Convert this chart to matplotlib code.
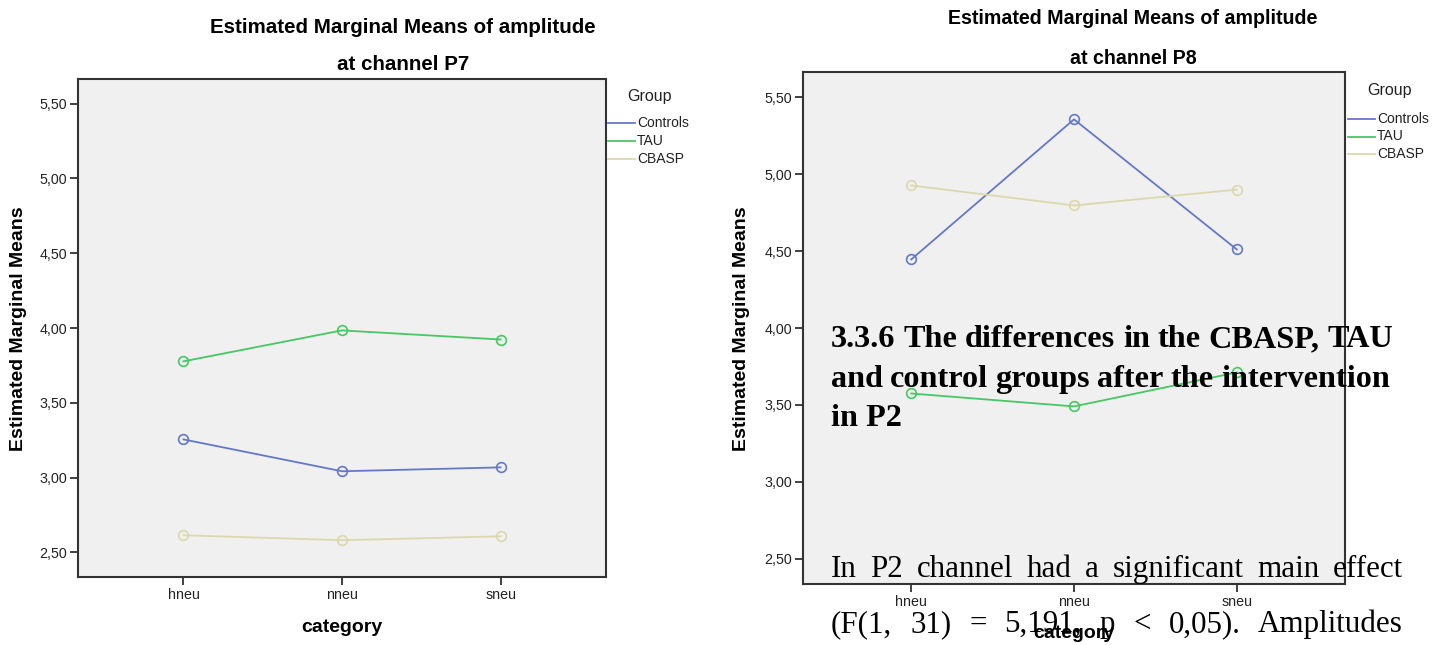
import matplotlib
matplotlib.use("Agg")
import matplotlib.pyplot as plt
from matplotlib.lines import Line2D

categories = ["hneu", "nneu", "sneu"]
groups = ["Controls", "TAU", "CBASP"]
p7_controls = [3.255, 3.042, 3.068]
p7_tau = [3.777, 3.984, 3.923]
p7_cbasp = [2.614, 2.581, 2.607]
p8_controls = [4.446, 5.357, 4.511]
p8_tau = [3.574, 3.490, 3.711]
p8_cbasp = [4.927, 4.797, 4.900]
yticks = [2.5, 3.0, 3.5, 4.0, 4.5, 5.0, 5.5]
ytick_labels = ["2,50", "3,00", "3,50", "4,00", "4,50", "5,00", "5,50"]

colors = {"Controls": "#6478c8", "TAU": "#46c864", "CBASP": "#dcd8ae"}

W, H = 1445, 645
fig = plt.figure(figsize=(W / 100, H / 100), dpi=100)
sans = "Liberation Sans"
serif = "Liberation Serif"


def fx(px):
    return px / W


def fy(py):
    return 1 - py / H


def panel(rect, series, title2, title_x, title_y1, title_y2, title_size,
          ylab_x, xlab_y, leg_x, leg_y, leg_off, leg_step):
    ax = fig.add_axes(rect)
    ax.set_facecolor("#f0f0f0")
    x = list(range(len(categories)))
    for g, vals in zip(groups, series):
        ax.plot(x, vals, color=colors[g], lw=1.3, marker="o", ms=7,
                mfc="none", mec=colors[g], mew=1.2)
    ax.set_xlim(-0.665, 2.665)
    ax.set_ylim(2.335, 5.665)
    ax.set_xticks(x)
    ax.set_xticklabels(categories, fontsize=10.3, family=sans, color="#222222")
    ax.set_yticks(yticks)
    ax.set_yticklabels(ytick_labels, fontsize=10.3, family=sans, color="#222222")
    ax.tick_params(direction="out", length=6, width=1.3, color="#333333", pad=2)
    for s in ax.spines.values():
        s.set_linewidth(1.5)
        s.set_color("#333333")
    fig.text(fx(title_x), fy(title_y1), "Estimated Marginal Means of amplitude",
             ha="center", va="center", fontsize=title_size, fontweight="bold", family=sans)
    fig.text(fx(title_x), fy(title_y2), title2,
             ha="center", va="center", fontsize=title_size, fontweight="bold", family=sans)
    fig.text(fx(ylab_x), 1 - 329 / H, "Estimated Marginal Means", rotation=90,
             ha="center", va="center", fontsize=14, fontweight="bold", family=sans)
    fig.text(rect[0] + rect[2] * 0.5, fy(xlab_y), "category",
             ha="center", va="center", fontsize=14, fontweight="bold", family=sans)
    fig.text(fx(leg_x + 19), fy(leg_y), "Group", ha="left", va="center",
             fontsize=11.5, family=sans, color="#222222")
    for i, g in enumerate(groups):
        yy = leg_y + leg_off + i * leg_step
        fig.add_artist(Line2D([fx(leg_x), fx(leg_x + 27)], [fy(yy), fy(yy)],
                              color=colors[g], lw=1.3))
        fig.text(fx(leg_x + 29), fy(yy), g, ha="left", va="center",
                 fontsize=10, family=sans, color="#222222")
    return ax


panel([78 / W, 1 - 577 / H, (606 - 78) / W, (577 - 79) / H],
      [p7_controls, p7_tau, p7_cbasp], "at channel P7", 403, 27.5, 65, 14.8,
      18.5, 628, 608, 96, 27, 18)
panel([803 / W, 1 - 584 / H, (1345 - 803) / W, (584 - 72) / H],
      [p8_controls, p8_tau, p8_cbasp], "at channel P8", 1133, 19, 59, 14.1,
      741, 633, 1348, 91, 28, 17.5)

# overlaid document text
fig.canvas.draw()
renderer = fig.canvas.get_renderer()

line1 = "3.3.6 The differences in the CBASP, TAU"
probe = fig.text(0, 0, line1, fontsize=20, fontweight="bold", family=serif)
w20 = probe.get_window_extent(renderer).width
probe.remove()
bold_size = 20 * (1393 - 831) / w20
body_size = bold_size * 0.96


def justified(text, x0, x1, ybase, size, weight):
    words = text.split()
    arts = [fig.text(0, 0, w, fontsize=size, fontweight=weight, family=serif,
                     ha="left", va="baseline", color="black") for w in words]
    widths = [a.get_window_extent(renderer).width for a in arts]
    gap = ((x1 - x0) - sum(widths)) / (len(words) - 1)
    xc = x0
    for a, w in zip(arts, widths):
        a.set_position((fx(xc), fy(ybase)))
        xc += w + gap


justified(line1, 831, 1393, 347, bold_size, "bold")
justified("and control groups after the intervention", 831, 1390, 387, bold_size, "bold")
fig.text(fx(831), fy(426), "in P2", fontsize=bold_size, fontweight="bold", family=serif,
         ha="left", va="baseline")
justified("In P2 channel had a significant main effect", 831, 1403, 577, body_size, "normal")
justified("(F(1, 31) = 5,191, p < 0,05). Amplitudes", 831, 1403, 632, body_size, "normal")

fig.savefig("out.png", dpi=100)
